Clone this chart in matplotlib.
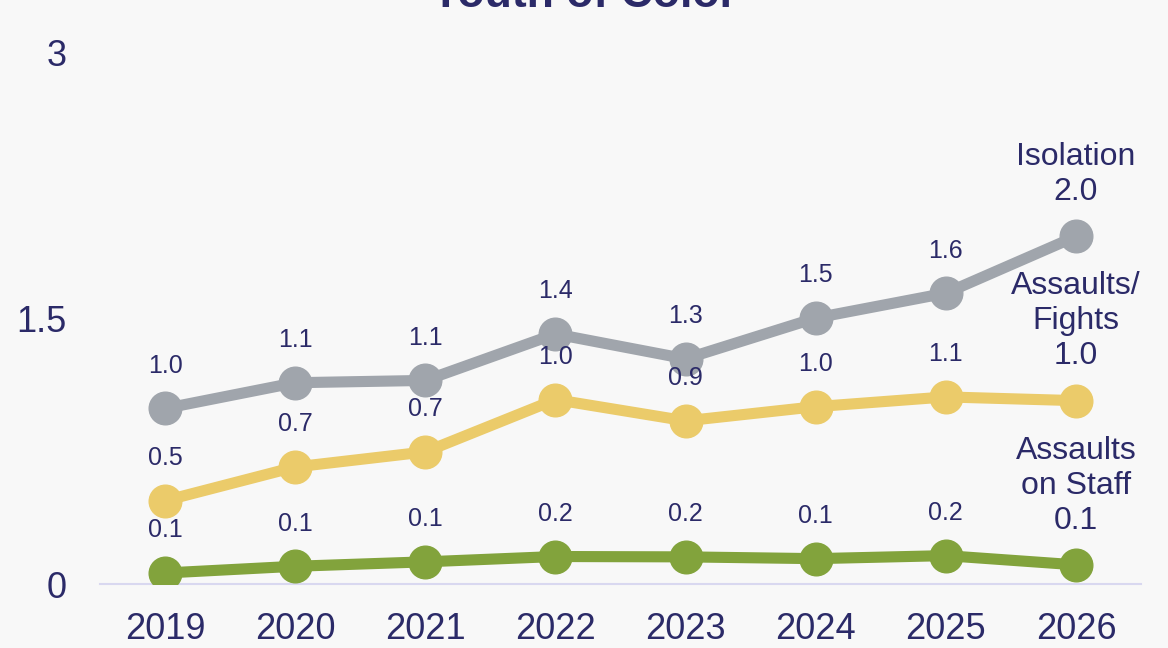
import matplotlib
matplotlib.use("Agg")
import matplotlib.pyplot as plt

plt.rcParams['font.family'] = ['Liberation Sans', 'DejaVu Sans']

years = [2019, 2020, 2021, 2022, 2023, 2024, 2025, 2026]
isolation = [0.99, 1.135, 1.148, 1.41, 1.27, 1.50, 1.64, 1.96]
assaults_fights = [0.47, 0.66, 0.745, 1.04, 0.92, 1.0, 1.055, 1.034]
assaults_staff = [0.062, 0.10, 0.125, 0.155, 0.153, 0.143, 0.16, 0.108]
series_names = ["Isolation", "Assaults/\nFights", "Assaults\non Staff"]
y_ticks = [0, 1.5, 3]
y_tick_labels = ["0", "1.5", "3"]
title = "Youth of Color"

colors = ["#a0a5ac", "#ebcb6a", "#82a33c"]
txt = "#2b2a68"
bg = "#f8f8f8"

fig = plt.figure(figsize=(11.68, 6.48), dpi=100, facecolor=bg)
ax = fig.add_axes([100/1168, 64/648, (1141-100)/1168, (584-52)/648])
ax.set_facecolor(bg)

all_series = [isolation, assaults_fights, assaults_staff]
for vals, col, name in zip(all_series, colors, series_names):
    ax.plot(years, vals, color=col, lw=8, marker='o', markersize=23.5,
            solid_capstyle='round', zorder=3)
    for x, v in zip(years[:-1], vals[:-1]):
        ax.annotate(f"{v:.1f}", (x, v), xytext=(0, 22), textcoords='offset points',
                    ha='center', va='bottom', fontsize=18, color=txt, zorder=5)
    ax.annotate(f"{name}\n{vals[-1]:.1f}", (years[-1], vals[-1]), xytext=(0, 21),
                textcoords='offset points', ha='center', va='bottom',
                fontsize=23, color=txt, linespacing=1.22, zorder=5,
                multialignment='center')

ax.set_xlim(2018.5, 2026.5)
ax.set_ylim(0, 3)
ax.set_xticks(years)
ax.set_xticklabels([str(y) for y in years])
ax.set_yticks(y_ticks)
ax.set_yticklabels(y_tick_labels)
ax.tick_params(axis='x', length=0, pad=20, labelsize=26, labelcolor=txt)
ax.tick_params(axis='y', length=0, pad=24, labelsize=26, labelcolor=txt)
for s in ['top', 'right', 'left']:
    ax.spines[s].set_visible(False)
ax.spines['bottom'].set_color('#d9d8f0')
ax.spines['bottom'].set_linewidth(1.5)
ax.spines['bottom'].set_zorder(1)

fig.text(0.5, 1 - 7/648, title, ha='center', va='baseline', fontsize=32,
         fontweight='bold', color=txt)

fig.savefig("out.png", dpi=100, facecolor=bg)
